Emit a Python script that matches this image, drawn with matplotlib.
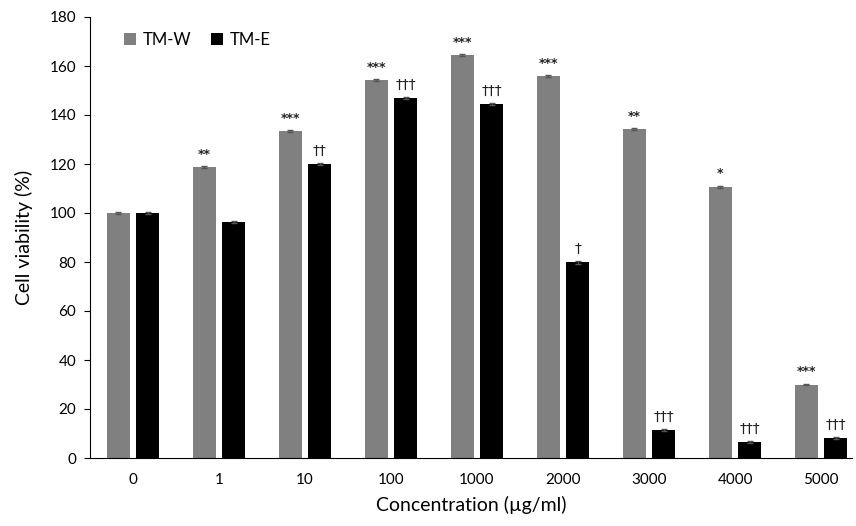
import numpy as np
import matplotlib
matplotlib.use("Agg")
import matplotlib.pyplot as plt

plt.rcParams['font.family'] = ['Lato', 'DejaVu Sans']

conc = ["0", "1", "10", "100", "1000", "2000", "3000", "4000", "5000"]
tmw = [100, 118.8, 133.4, 154.2, 164.6, 155.8, 134.4, 110.8, 30.0]
tme = [100, 96.4, 120.0, 146.8, 144.3, 79.8, 11.5, 6.5, 8.3]
tmw_err = [0.4, 0.4, 0.4, 0.4, 0.4, 0.4, 0.4, 0.4, 0.4]
tme_err = [0.4, 0.4, 0.4, 0.4, 0.4, 0.7, 0.4, 0.4, 0.4]
tmw_sig = ["", "**", "***", "***", "***", "***", "**", "*", "***"]
tme_sig = ["", "", "\u2020\u2020", "\u2020\u2020\u2020", "\u2020\u2020\u2020", "\u2020",
           "\u2020\u2020\u2020", "\u2020\u2020\u2020", "\u2020\u2020\u2020"]

fig = plt.figure(figsize=(8.56, 5.26), dpi=100)
ax = fig.add_axes([90/856, 1 - 458/526, 762/856, 441/526])

x = np.arange(len(conc))
w = 0.27
off = 0.17
ax.bar(x - off, tmw, w, color="#808080", label="TM-W",
       yerr=tmw_err, error_kw=dict(ecolor="#555555", capsize=2, elinewidth=0.8))
ax.bar(x + off, tme, w, color="black", label="TM-E",
       yerr=tme_err, error_kw=dict(ecolor="#555555", capsize=2, elinewidth=0.8))

for i in range(len(conc)):
    if tmw_sig[i]:
        ax.text(x[i] - off, tmw[i] + 2.5, tmw_sig[i], ha="center", va="bottom",
                fontsize=9, family="DejaVu Sans", fontweight="bold", color="#222222")
    if tme_sig[i]:
        ax.text(x[i] + off, tme[i] + 2.5, tme_sig[i], ha="center", va="bottom",
                fontsize=10, family="DejaVu Sans", color="#222222")

ax.set_xlim(-0.5, 8.36)
ax.set_ylim(0, 180)
ax.set_yticks(np.arange(0, 181, 20))
ax.set_xticks(x)
ax.set_xticklabels(conc)
ax.tick_params(axis="x", length=0, pad=11, labelsize=11)
ax.tick_params(axis="y", length=4, labelsize=11, pad=6)
for s in ["top", "right"]:
    ax.spines[s].set_visible(False)
ax.set_ylabel("Cell viability (%)", fontsize=14, labelpad=12)
ax.set_xlabel("Concentration (\u00b5g/ml)", fontsize=14, labelpad=6)

ax.legend(loc="upper left", bbox_to_anchor=(0.025, 1.0), ncol=2, frameon=False,
          fontsize=12, handlelength=0.7, handleheight=0.7, handletextpad=0.4,
          columnspacing=1.2)

fig.savefig("out.png", dpi=100)
